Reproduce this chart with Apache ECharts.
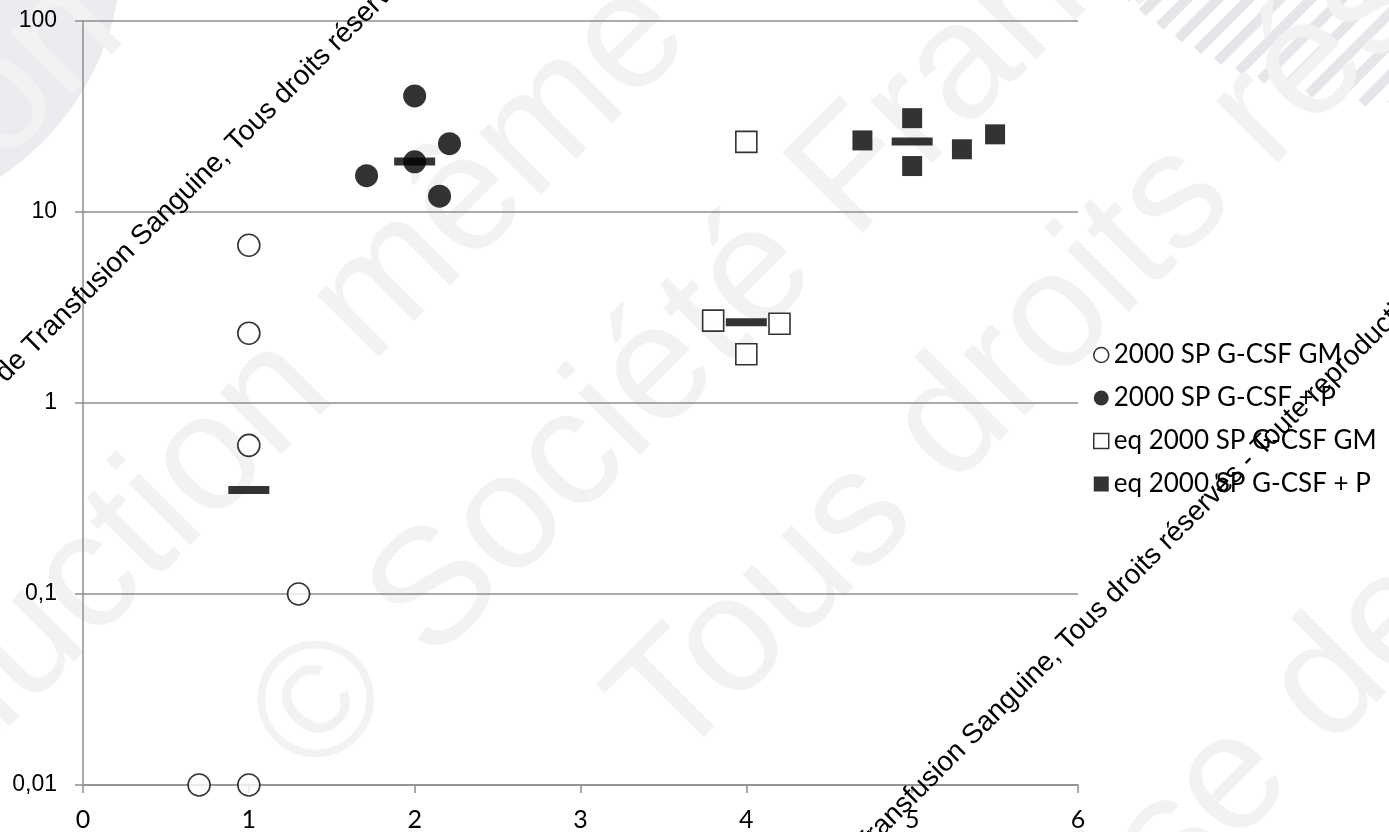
<!DOCTYPE html>
<html><head><meta charset="utf-8">
<script src="https://cdn.jsdelivr.net/npm/echarts@6/dist/echarts.min.js"></script>
<style>html,body{margin:0;padding:0;background:#fff}#c{width:1389px;height:832px}</style>
</head><body><div id="c"></div>
<script>
// ---- data ----
const seriesNames = ['2000 SP G-CSF GM', '2000 SP G-CSF + P', 'eq 2000 SP G-CSF GM', 'eq 2000 SP G-CSF + P'];
const gmX = [1, 1, 1, 1.3, 0.7, 1];
const gmY = [6.7, 2.32, 0.6, 0.1, 0.01, 0.01];
const pX = [1.71, 2, 2, 2.21, 2.15];
const pY = [15.5, 40.5, 18.3, 22.8, 12.1];
const eqGmX = [4, 3.8, 4.2, 4];
const eqGmY = [23.3, 2.7, 2.6, 1.8];
const eqPX = [4.7, 5, 5, 5.3, 5.5];
const eqPY = [23.7, 31, 17.4, 21.3, 25.5];
const meanX = [1, 2, 4, 5];
const meanY = [0.35, 18.4, 2.65, 23.4];
const yTickLabels = ['0,01', '0,1', '1', '10', '100'];
const watermarkLine = ['© Société Française de Transfusion ', 'Sanguine, Tous droits réservés - Toute reproduction même partielle interdite'];

const zip = (xs, ys) => xs.map((x, i) => [x, ys[i]]);

const gridColor = '#8e8e8e';
const chart = echarts.init(document.getElementById('c'), null, {renderer: 'canvas'});

// decorative background elements
const graphics = [];
graphics.push({type: 'circle', z: -20, shape: {cx: -150, cy: -50, r: 272}, style: {fill: '#ebebf0'}, silent: true});
(function () {
  const cx = 1400, cy = -300, r = 405;
  for (let c = 1000; c < 1900; c += 31) {
    const a = 2, b = -2 * cx - 2 * (c - cy), cc = cx * cx + (c - cy) * (c - cy) - r * r;
    const d = b * b - 4 * a * cc;
    if (d <= 0) continue;
    const x1 = (-b - Math.sqrt(d)) / (2 * a), x2 = (-b + Math.sqrt(d)) / (2 * a);
    graphics.push({type: 'line', z: -20, silent: true,
      shape: {x1: x1, y1: c - x1, x2: x2, y2: c - x2},
      style: {stroke: '#e6e6ea', lineWidth: 10}});
  }
})();
const faint = [
  ['reproduction', -227, 329],
  ['reproduction même', 160, 511],
  ['© Société Française', 807, 224],
  ['Tous droits réservés', 1163, 213],
  ['Française de Transfusion', 1408, 606]
];
faint.forEach(f => graphics.push({type: 'text', z: -10, silent: true, x: f[1], y: f[2], rotation: Math.PI / 4,
  style: {text: f[0], font: '165px "Liberation Sans", Arial', fill: '#f2f2f2', textAlign: 'center', textVerticalAlign: 'middle'}}));
[[146, 252], [977, 751]].forEach(p => {
  graphics.push({type: 'text', z: 100, silent: true, x: p[0], y: p[1], rotation: Math.PI / 4,
    style: {text: watermarkLine[0], font: '28px "Liberation Sans", Arial', fill: '#000', textAlign: 'right', textVerticalAlign: 'bottom'}});
  graphics.push({type: 'text', z: 100, silent: true, x: p[0], y: p[1], rotation: Math.PI / 4,
    style: {text: watermarkLine[1], font: '28px "Liberation Sans", Arial', fill: '#000', textAlign: 'left', textVerticalAlign: 'bottom'}});
});

const openStyle = {color: '#fff', borderColor: '#000', borderWidth: 1.6};
const fillStyle = {color: '#000'};

chart.setOption({
  animation: false,
  backgroundColor: '#fff',
  graphic: {elements: graphics},
  grid: {left: 83, top: 21, width: 995, height: 764, containLabel: false},
  xAxis: {
    type: 'value', min: 0, max: 6, interval: 1,
    axisLine: {show: true, lineStyle: {color: gridColor, width: 1.5}},
    axisTick: {show: true, length: 8, lineStyle: {color: gridColor, width: 1.5}},
    splitLine: {show: false},
    axisLabel: {margin: 22, color: '#000', fontFamily: 'Lato', fontSize: 25}
  },
  yAxis: {
    type: 'log', logBase: 10, min: 0.01, max: 100,
    axisLine: {show: true, lineStyle: {color: gridColor, width: 1.5}},
    axisTick: {show: true, length: 8, lineStyle: {color: gridColor, width: 1.5}},
    splitLine: {show: true, lineStyle: {color: gridColor, width: 1.5}},
    minorTick: {show: false},
    axisLabel: {
      margin: 26, color: '#000', fontFamily: '"Liberation Sans", Arial', fontSize: 23,
      formatter: v => yTickLabels[Math.round(Math.log10(v)) + 2]
    }
  },
  legend: {
    orient: 'vertical', left: 1088, top: 337, itemWidth: 15, itemHeight: 15, itemGap: 17,
    textStyle: {fontFamily: 'Lato', fontSize: 26, color: '#000', lineHeight: 26},
    data: [
      {name: seriesNames[0], icon: 'circle', itemStyle: {color: '#fff', borderColor: '#000', borderWidth: 1.5}},
      {name: seriesNames[1], icon: 'circle', itemStyle: {color: '#000'}},
      {name: seriesNames[2], icon: 'rect', itemStyle: {color: '#fff', borderColor: '#000', borderWidth: 1.5}},
      {name: seriesNames[3], icon: 'rect', itemStyle: {color: '#000'}}
    ]
  },
  series: [
    {name: 'moyenne', type: 'scatter', clip: false, z: 3, symbol: 'rect', symbolSize: [41, 8], itemStyle: fillStyle, data: zip(meanX, meanY)},
    {name: seriesNames[0], type: 'scatter', clip: false, z: 4, symbol: 'circle', symbolSize: 22, itemStyle: openStyle, data: zip(gmX, gmY)},
    {name: seriesNames[1], type: 'scatter', clip: false, z: 4, symbol: 'circle', symbolSize: 23, itemStyle: fillStyle, data: zip(pX, pY)},
    {name: seriesNames[2], type: 'scatter', clip: false, z: 4, symbol: 'rect', symbolSize: 21, itemStyle: openStyle, data: zip(eqGmX, eqGmY)},
    {name: seriesNames[3], type: 'scatter', clip: false, z: 4, symbol: 'rect', symbolSize: 20, itemStyle: fillStyle, data: zip(eqPX, eqPY)}
  ]
});
</script></body></html>
